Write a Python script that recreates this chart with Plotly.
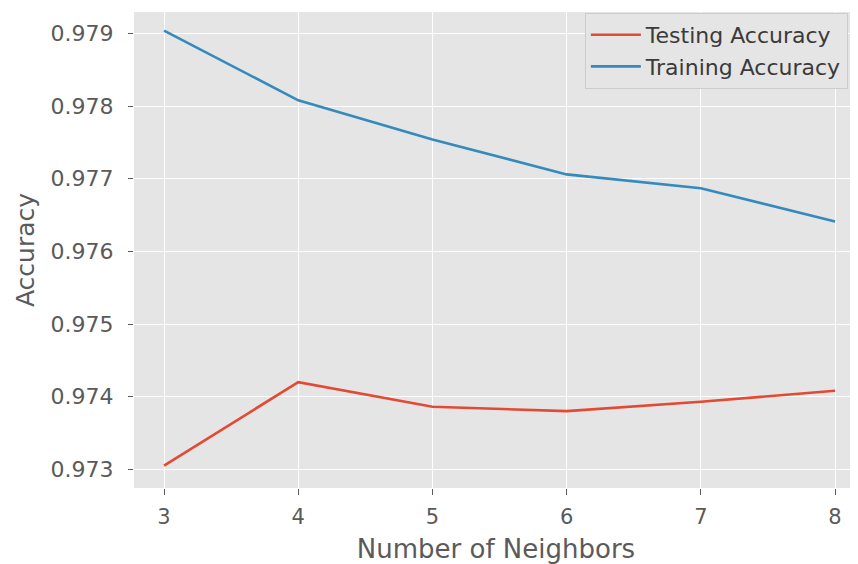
import plotly.graph_objects as go

neighbors = [3, 4, 5, 6, 7, 8]
testing_acc = [0.97305, 0.97420, 0.97386, 0.97380, 0.97393, 0.97408]
training_acc = [0.97904, 0.97808, 0.97754, 0.97706, 0.97687, 0.97641]
y_ticks = [0.973, 0.974, 0.975, 0.976, 0.977, 0.978, 0.979]

fig = go.Figure()
fig.add_trace(go.Scatter(x=neighbors, y=testing_acc, mode="lines", name="Testing Accuracy",
                         line=dict(color="#E24A33", width=2.6)))
fig.add_trace(go.Scatter(x=neighbors, y=training_acc, mode="lines", name="Training Accuracy",
                         line=dict(color="#348ABD", width=2.6)))

fig.update_layout(
    width=850, height=556,
    margin=dict(l=126, r=0, t=4, b=76),
    paper_bgcolor="white", plot_bgcolor="#E5E5E5",
    font=dict(family="DejaVu Sans", color="#5a5a5a", size=20),
    showlegend=True,
    legend=dict(x=0.986, y=0.998, xanchor="right", yanchor="top",
                bgcolor="#E5E5E5", bordercolor="#CCCCCC", borderwidth=1,
                itemwidth=50,
                font=dict(size=22, color="#3a3a3a"), tracegroupgap=0),
)
fig.update_xaxes(range=[2.776, 8.171], tickvals=neighbors, showgrid=True, gridcolor="white", gridwidth=1.3,
                 zeroline=False, ticks="outside", ticklen=6, tickcolor="#5a5a5a", ticklabelstandoff=4,
                 tickfont=dict(size=21, color="#5a5a5a"),
                 title=dict(text="Number of Neighbors", font=dict(size=26, color="#5a5a5a"), standoff=11))
fig.update_yaxes(range=[0.972742, 0.979296], tickvals=y_ticks, tickformat=".3f", showgrid=True,
                 gridcolor="white", gridwidth=1.3, zeroline=False, ticks="outside", ticklen=5,
                 tickcolor="#5a5a5a", ticklabelstandoff=10,
                 tickfont=dict(size=22, color="#5a5a5a"),
                 title=dict(text="Accuracy", font=dict(size=25, color="#5a5a5a"), standoff=8))

fig.write_html("out.html")
